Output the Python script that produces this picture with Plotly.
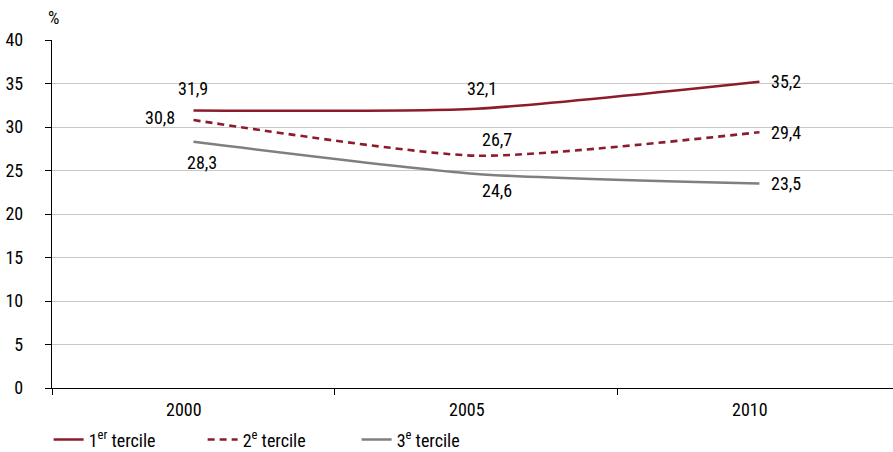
import plotly.graph_objects as go

# Share by tercile, 2000-2010 (%)
years = ["2000", "2005", "2010"]
tercile_1 = [31.9, 32.1, 35.2]
tercile_2 = [30.8, 26.7, 29.4]
tercile_3 = [28.3, 24.6, 23.5]
series_names = ["1<sup>er</sup> tercile", "2<sup>e</sup> tercile", "3<sup>e</sup> tercile"]
y_ticks = [0, 5, 10, 15, 20, 25, 30, 35, 40]

FONT = "Liberation Sans Narrow, Roboto Condensed, Arial Narrow, Roboto, sans-serif"
RED = "#8c1c2c"
GREY = "#7f7f7f"

x_pos = list(range(len(years)))

styles = [
    dict(color=RED, width=2.6, dash="solid"),
    dict(color=RED, width=2.6, dash="7px,5px"),
    dict(color=GREY, width=2.6, dash="solid"),
]
# label offsets (px) per series, per point
offsets = [
    [(0, 22), (6, 20), (27, 0)],
    [(-33, 3), (21, 16), (27, 0)],
    [(9, -21), (21, -17), (27, 0)],
]

fig = go.Figure()
annotations = []
for name, vals, st, offs in zip(series_names, [tercile_1, tercile_2, tercile_3], styles, offsets):
    fig.add_trace(go.Scatter(
        x=x_pos, y=vals, mode="lines", name=name,
        line=dict(color=st["color"], width=st["width"], dash=st["dash"],
                  shape="spline", smoothing=0.6),
        hoverinfo="skip",
    ))
    for xi, v, (dx, dy) in zip(x_pos, vals, offs):
        annotations.append(dict(
            x=xi, y=v, xref="x", yref="y", text=f"{v:.1f}".replace(".", ","),
            showarrow=False, xshift=dx, yshift=dy,
            font=dict(family=FONT, size=18, color="#000"),
        ))

# year labels under each category band
for xi, yr in zip(x_pos, years):
    annotations.append(dict(
        x=xi, y=0, xref="x", yref="paper", text=yr, showarrow=False,
        xshift=-9, yshift=-9, yanchor="top",
        font=dict(family=FONT, size=18, color="#000"),
    ))

annotations.append(dict(
    x=0, y=1, xref="paper", yref="paper", text="%", showarrow=False,
    xanchor="left", yanchor="bottom", xshift=-6, yshift=10,
    font=dict(family=FONT, size=18, color="#000"),
))

fig.update_layout(
    width=893, height=452,
    margin=dict(l=52, r=0, t=40, b=64, autoexpand=False),
    paper_bgcolor="white", plot_bgcolor="white",
    font=dict(family=FONT, size=18, color="#000"),
    showlegend=True,
    legend=dict(orientation="h", x=-0.004, y=-0.149, xanchor="left", yanchor="middle",
                font=dict(family=FONT, size=18), itemwidth=30,
                tracegroupgap=0, entrywidth=109, entrywidthmode="pixels"),
    annotations=annotations,
)
fig.update_xaxes(
    range=[-0.5, 2.472], showgrid=False, zeroline=False,
    showline=True, linecolor="#000", linewidth=1.3,
    tickmode="array", tickvals=[-0.5, 0.5, 1.5], ticktext=["", "", ""],
    ticks="outside", ticklen=6, tickcolor="#000", tickwidth=1,
)
fig.update_yaxes(
    range=[0, 40], tickmode="array", tickvals=y_ticks,
    showgrid=True, gridcolor="#c8c8c8", gridwidth=1.3, zeroline=False,
    showline=True, linecolor="#000", linewidth=1.3,
    ticks="outside", ticklen=6, tickcolor="#000", ticklabelstandoff=18,
    tickfont=dict(family=FONT, size=18),
)

fig.write_html("out.html")
